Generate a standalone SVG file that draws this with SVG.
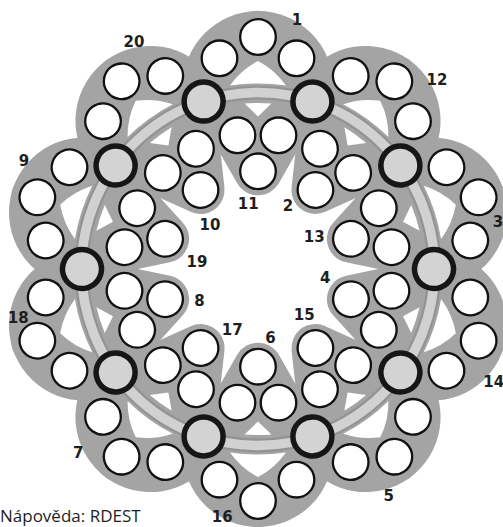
<svg xmlns="http://www.w3.org/2000/svg" width="503" height="527" viewBox="0 0 503 527">
<style>
.ho{fill:#a4a4a4;stroke:#a4a4a4;stroke-width:52;stroke-linejoin:round}
.hc{fill:#a4a4a4}
.hi{fill:#a4a4a4;stroke:#a4a4a4;stroke-width:48;stroke-linejoin:round}
.hole{fill:#fff}
.w{fill:#fff;stroke:#111;stroke-width:2.3}
.g{fill:#d3d3d3;stroke:#161616;stroke-width:5.5}
.lbl{font-family:"DejaVu Sans",Verdana,sans-serif;font-weight:bold;font-size:15px;fill:#1e1e1e;text-anchor:middle}
.hint{font-family:"Open Sans","Noto Sans",sans-serif;font-size:17px;fill:#1e1e1e}
</style>
<defs>
<g id="oL"><circle class="hc" cx="0" cy="-183" r="75"/><polygon class="ho" points="-54.4,-167.4 -38.5,-210.7 0,-232 38.5,-210.7 54.4,-167.4"/></g>
<polygon id="iL" class="hi" points="-54.4,-167.4 -20.5,-133.7 0,-97.7 20.5,-133.7 54.4,-167.4"/>
<path id="oH" class="hole" d="M0,-208 Q-17,-199 -28,-183.4 A185.5,185.5 0 0 1 28,-183.4 Q17,-199 0,-208Z"/>
<path id="iH" class="hole" d="M0,-152.5 L-13.5,-165.5 A166,166 0 0 1 13.5,-165.5Z"/>
</defs>
<g id="backgrounds" transform="translate(258 269)">
<use href="#oL"/><use href="#oL" transform="rotate(36)"/><use href="#oL" transform="rotate(72)"/><use href="#oL" transform="rotate(108)"/><use href="#oL" transform="rotate(144)"/><use href="#oL" transform="rotate(180)"/><use href="#oL" transform="rotate(216)"/><use href="#oL" transform="rotate(252)"/><use href="#oL" transform="rotate(288)"/><use href="#oL" transform="rotate(324)"/>
<use href="#iL"/><use href="#iL" transform="rotate(36)"/><use href="#iL" transform="rotate(72)"/><use href="#iL" transform="rotate(108)"/><use href="#iL" transform="rotate(144)"/><use href="#iL" transform="rotate(180)"/><use href="#iL" transform="rotate(216)"/><use href="#iL" transform="rotate(252)"/><use href="#iL" transform="rotate(288)"/><use href="#iL" transform="rotate(324)"/>
<use href="#oH"/><use href="#oH" transform="rotate(36)"/><use href="#oH" transform="rotate(72)"/><use href="#oH" transform="rotate(108)"/><use href="#oH" transform="rotate(144)"/><use href="#oH" transform="rotate(180)"/><use href="#oH" transform="rotate(216)"/><use href="#oH" transform="rotate(252)"/><use href="#oH" transform="rotate(288)"/><use href="#oH" transform="rotate(324)"/>
<use href="#iH"/><use href="#iH" transform="rotate(36)"/><use href="#iH" transform="rotate(72)"/><use href="#iH" transform="rotate(108)"/><use href="#iH" transform="rotate(144)"/><use href="#iH" transform="rotate(180)"/><use href="#iH" transform="rotate(216)"/><use href="#iH" transform="rotate(252)"/><use href="#iH" transform="rotate(288)"/><use href="#iH" transform="rotate(324)"/>
</g>
<g id="connectors" transform="translate(258 269)">
<circle r="176.5" fill="none" stroke="#939393" stroke-width="14"/>
<circle r="176.5" fill="none" stroke="#d1d1d1" stroke-width="9.5"/>
</g>
<g id="nodes" transform="translate(258 269)">
<g id="lobe-1"><circle class="w" cx="-38.5" cy="-210.7" r="17.8"/><circle class="w" cx="0" cy="-232" r="17.8"/><circle class="w" cx="38.5" cy="-210.7" r="17.8"/></g>
<g id="lobe-11"><circle class="w" cx="-20.5" cy="-133.7" r="17.8"/><circle class="w" cx="0" cy="-97.7" r="17.8"/><circle class="w" cx="20.5" cy="-133.7" r="17.8"/></g>
<g id="lobe-12" transform="rotate(36)"><circle class="w" cx="-38.5" cy="-210.7" r="17.8"/><circle class="w" cx="0" cy="-232" r="17.8"/><circle class="w" cx="38.5" cy="-210.7" r="17.8"/></g>
<g id="lobe-2" transform="rotate(36)"><circle class="w" cx="-20.5" cy="-133.7" r="17.8"/><circle class="w" cx="0" cy="-97.7" r="17.8"/><circle class="w" cx="20.5" cy="-133.7" r="17.8"/></g>
<g id="lobe-3" transform="rotate(72)"><circle class="w" cx="-38.5" cy="-210.7" r="17.8"/><circle class="w" cx="0" cy="-232" r="17.8"/><circle class="w" cx="38.5" cy="-210.7" r="17.8"/></g>
<g id="lobe-13" transform="rotate(72)"><circle class="w" cx="-20.5" cy="-133.7" r="17.8"/><circle class="w" cx="0" cy="-97.7" r="17.8"/><circle class="w" cx="20.5" cy="-133.7" r="17.8"/></g>
<g id="lobe-14" transform="rotate(108)"><circle class="w" cx="-38.5" cy="-210.7" r="17.8"/><circle class="w" cx="0" cy="-232" r="17.8"/><circle class="w" cx="38.5" cy="-210.7" r="17.8"/></g>
<g id="lobe-4" transform="rotate(108)"><circle class="w" cx="-20.5" cy="-133.7" r="17.8"/><circle class="w" cx="0" cy="-97.7" r="17.8"/><circle class="w" cx="20.5" cy="-133.7" r="17.8"/></g>
<g id="lobe-5" transform="rotate(144)"><circle class="w" cx="-38.5" cy="-210.7" r="17.8"/><circle class="w" cx="0" cy="-232" r="17.8"/><circle class="w" cx="38.5" cy="-210.7" r="17.8"/></g>
<g id="lobe-15" transform="rotate(144)"><circle class="w" cx="-20.5" cy="-133.7" r="17.8"/><circle class="w" cx="0" cy="-97.7" r="17.8"/><circle class="w" cx="20.5" cy="-133.7" r="17.8"/></g>
<g id="lobe-16" transform="rotate(180)"><circle class="w" cx="-38.5" cy="-210.7" r="17.8"/><circle class="w" cx="0" cy="-232" r="17.8"/><circle class="w" cx="38.5" cy="-210.7" r="17.8"/></g>
<g id="lobe-6" transform="rotate(180)"><circle class="w" cx="-20.5" cy="-133.7" r="17.8"/><circle class="w" cx="0" cy="-97.7" r="17.8"/><circle class="w" cx="20.5" cy="-133.7" r="17.8"/></g>
<g id="lobe-7" transform="rotate(216)"><circle class="w" cx="-38.5" cy="-210.7" r="17.8"/><circle class="w" cx="0" cy="-232" r="17.8"/><circle class="w" cx="38.5" cy="-210.7" r="17.8"/></g>
<g id="lobe-17" transform="rotate(216)"><circle class="w" cx="-20.5" cy="-133.7" r="17.8"/><circle class="w" cx="0" cy="-97.7" r="17.8"/><circle class="w" cx="20.5" cy="-133.7" r="17.8"/></g>
<g id="lobe-18" transform="rotate(252)"><circle class="w" cx="-38.5" cy="-210.7" r="17.8"/><circle class="w" cx="0" cy="-232" r="17.8"/><circle class="w" cx="38.5" cy="-210.7" r="17.8"/></g>
<g id="lobe-8" transform="rotate(252)"><circle class="w" cx="-20.5" cy="-133.7" r="17.8"/><circle class="w" cx="0" cy="-97.7" r="17.8"/><circle class="w" cx="20.5" cy="-133.7" r="17.8"/></g>
<g id="lobe-9" transform="rotate(288)"><circle class="w" cx="-38.5" cy="-210.7" r="17.8"/><circle class="w" cx="0" cy="-232" r="17.8"/><circle class="w" cx="38.5" cy="-210.7" r="17.8"/></g>
<g id="lobe-19" transform="rotate(288)"><circle class="w" cx="-20.5" cy="-133.7" r="17.8"/><circle class="w" cx="0" cy="-97.7" r="17.8"/><circle class="w" cx="20.5" cy="-133.7" r="17.8"/></g>
<g id="lobe-20" transform="rotate(324)"><circle class="w" cx="-38.5" cy="-210.7" r="17.8"/><circle class="w" cx="0" cy="-232" r="17.8"/><circle class="w" cx="38.5" cy="-210.7" r="17.8"/></g>
<g id="lobe-10" transform="rotate(324)"><circle class="w" cx="-20.5" cy="-133.7" r="17.8"/><circle class="w" cx="0" cy="-97.7" r="17.8"/><circle class="w" cx="20.5" cy="-133.7" r="17.8"/></g>
<g id="hub-1"><circle class="g" cx="54.4" cy="-167.4" r="19.5"/></g>
<g id="hub-2" transform="rotate(36)"><circle class="g" cx="54.4" cy="-167.4" r="19.5"/></g>
<g id="hub-3" transform="rotate(72)"><circle class="g" cx="54.4" cy="-167.4" r="19.5"/></g>
<g id="hub-4" transform="rotate(108)"><circle class="g" cx="54.4" cy="-167.4" r="19.5"/></g>
<g id="hub-5" transform="rotate(144)"><circle class="g" cx="54.4" cy="-167.4" r="19.5"/></g>
<g id="hub-6" transform="rotate(180)"><circle class="g" cx="54.4" cy="-167.4" r="19.5"/></g>
<g id="hub-7" transform="rotate(216)"><circle class="g" cx="54.4" cy="-167.4" r="19.5"/></g>
<g id="hub-8" transform="rotate(252)"><circle class="g" cx="54.4" cy="-167.4" r="19.5"/></g>
<g id="hub-9" transform="rotate(288)"><circle class="g" cx="54.4" cy="-167.4" r="19.5"/></g>
<g id="hub-10" transform="rotate(324)"><circle class="g" cx="54.4" cy="-167.4" r="19.5"/></g>
</g>
<g id="labels">
<text class="lbl" x="297" y="25.4">1</text>
<text class="lbl" x="134" y="47.4">20</text>
<text class="lbl" x="437" y="84.9">12</text>
<text class="lbl" x="24" y="166.4">9</text>
<text class="lbl" x="210" y="230.4">10</text>
<text class="lbl" x="248.3" y="209.4">11</text>
<text class="lbl" x="288" y="211.4">2</text>
<text class="lbl" x="498" y="227.4">3</text>
<text class="lbl" x="314.3" y="242.4">13</text>
<text class="lbl" x="197" y="267.4">19</text>
<text class="lbl" x="325.3" y="283.4">4</text>
<text class="lbl" x="199.5" y="305.9">8</text>
<text class="lbl" x="18.3" y="323.4">18</text>
<text class="lbl" x="232.2" y="334.7">17</text>
<text class="lbl" x="304.3" y="320.4">15</text>
<text class="lbl" x="270.5" y="343.1">6</text>
<text class="lbl" x="493.7" y="387.1">14</text>
<text class="lbl" x="78.3" y="457.9">7</text>
<text class="lbl" x="388.7" y="500.9">5</text>
<text class="lbl" x="222.2" y="522.4">16</text>
<text class="hint" x="0" y="522">Nápověda: RDEST</text>
</g>
</svg>
